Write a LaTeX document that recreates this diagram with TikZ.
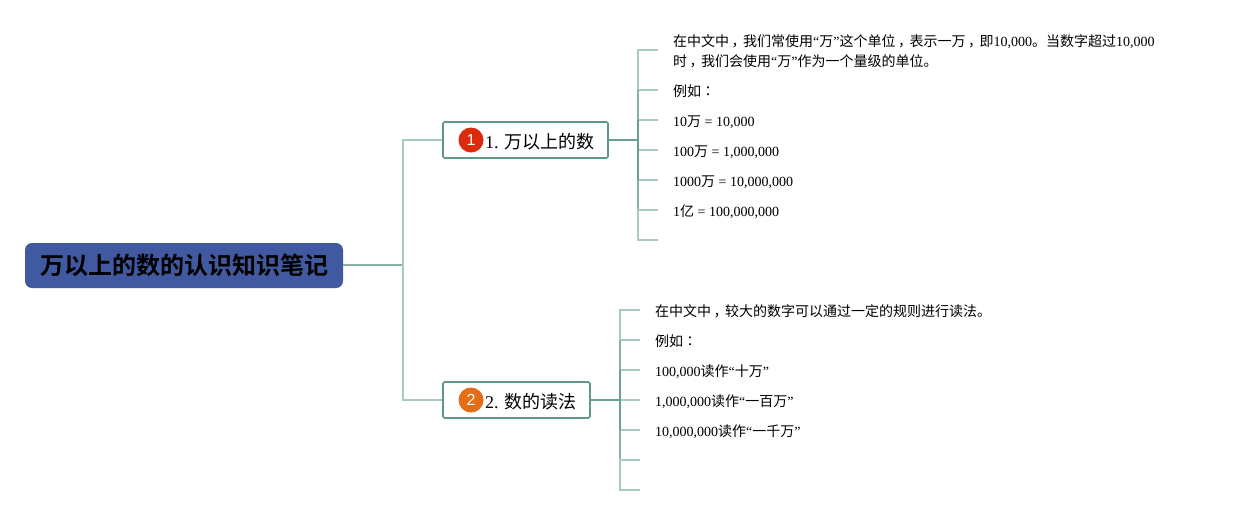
\documentclass[tikz,border=0pt]{standalone}
\usepackage{fontspec}
\setmainfont{Liberation Serif}
\newfontfamily\cjk{Noto Sans CJK SC}
\newfontfamily\cjktc{Noto Sans CJK TC}
\newfontfamily\cjkb{Noto Sans CJK SC Bold}
\newfontfamily\helv{Liberation Sans}
\newcommand{\cn}[1]{{\cjk #1}}
\newcommand{\zc}{\kern.18em，\kern-.18em}
\definecolor{rootblue}{HTML}{4059A0}
\definecolor{linedark}{HTML}{6B9E92}
\definecolor{linemid}{HTML}{86B1A6}
\definecolor{linelight}{HTML}{A8CABF}
\definecolor{boxedge}{HTML}{5F978A}
\definecolor{badgered}{HTML}{DC2A0C}
\definecolor{badgeorange}{HTML}{E56D17}
\tikzset{
  rootbox/.style={draw=none,fill=rootblue,rounded corners=7pt,minimum width=318pt,minimum height=45pt,inner sep=0pt,font=\fontsize{24}{24}\selectfont},
  topicbox/.style={draw=boxedge,line width=1.7pt,fill=white,rounded corners=1.5pt,minimum height=36pt,inner sep=0pt},
  topiclabel/.style={inner sep=0pt,anchor=west,font=\fontsize{18}{18}\selectfont},
  badge/.style={circle,minimum size=25pt,inner sep=0pt,text=white,font=\helv\fontsize{16}{16}\selectfont},
  leaftext/.style={inner sep=0pt,anchor=west,align=left,font=\fontsize{14}{20}\selectfont},
  conn/.style={draw=linedark,line width=1.8pt},
  connmid/.style={draw=linemid,line width=1.8pt},
  connlight/.style={draw=linelight,line width=1.5pt},
}
\begin{document}
\begin{tikzpicture}[x=1pt,y=-1pt]
\useasboundingbox (0,0) rectangle (1233,515);
\fill[white] (0,0) rectangle (1233,515);

% junction coordinates
\coordinate (rj) at (403,265);
\coordinate (t1) at (638,140);
\coordinate (t2) at (620,400);
\foreach \n/\y in {a/50,b/90,c/120,d/150,e/180,f/210,g/240}{
  \coordinate (j1\n) at (638,\y);
  \coordinate (e1\n) at (658,\y);
}
\foreach \n/\y in {a/310,b/340,c/370,d/400,e/430,f/460,g/490}{
  \coordinate (j2\n) at (620,\y);
  \coordinate (e2\n) at (640,\y);
}

% nodes
\node[rootbox] (root) at (184,265.5) {\cjkb 万以上的数的认识知识笔记};
\node[topicbox,minimum width=165pt] (n1) at (525.5,140) {};
\node[topicbox,minimum width=147pt] (n2) at (516.5,400) {};
\node[badge,fill=badgered] (b1) at (471,140) {1};
\node[badge,fill=badgeorange] (b2) at (471,400) {2};
\node[topiclabel] (l1) at (485,142) {1. \cn{万以上的数}};
\node[topiclabel] (l2) at (485,402) {2. \cn{数的读法}};

\node[leaftext] (a1) at (673,51.5) {\cn{在中文中\zc 我们常使用}“\cn{万}”\cn{这个单位\zc 表示一万\zc 即}10,000\cn{。当数字超过}10,000\\\cn{时\zc 我们会使用}“\cn{万}”\cn{作为一个量级的单位。}};
\node[leaftext] (a2) at (673,91) {\cn{例如}{\cjktc ：}};
\node[leaftext] (a3) at (673,122) {10\cn{万} = 10,000};
\node[leaftext] (a4) at (673,152) {100\cn{万} = 1,000,000};
\node[leaftext] (a5) at (673,182) {1000\cn{万} = 10,000,000};
\node[leaftext] (a6) at (673,212) {1\cn{亿} = 100,000,000};

\node[leaftext] (c1) at (655,311.5) {\cn{在中文中\zc 较大的数字可以通过一定的规则进行读法。}};
\node[leaftext] (c2) at (655,341) {\cn{例如}{\cjktc ：}};
\node[leaftext] (c3) at (655,372) {100,000\cn{读作}“\cn{十万}”};
\node[leaftext] (c4) at (655,402) {1,000,000\cn{读作}“\cn{一百万}”};
\node[leaftext] (c5) at (655,432) {10,000,000\cn{读作}“\cn{一千万}”};

% connectors
\draw[connmid] (root.east |- rj) -- (rj);
\draw[connlight] (n1.west) -| (rj);
\draw[connlight] (n2.west) -| (rj);
\draw[conn] (n1.east) -- (t1);
\draw[conn] (n2.east) -- (t2);
\foreach \k in {1,2}{
  \foreach \n in {a,b,c,d,e,f,g}{
    \draw[connlight] (j\k\n) -- (e\k\n);
  }
  \draw[connlight,line cap=rect] (j\k a) -- (j\k b);
  \draw[connmid] (j\k b) -- (j\k c);
  \draw[conn] (j\k c) -- (j\k e);
  \draw[connmid] (j\k e) -- (j\k f);
  \draw[connlight,line cap=rect] (j\k f) -- (j\k g);
}
\end{tikzpicture}
\end{document}
